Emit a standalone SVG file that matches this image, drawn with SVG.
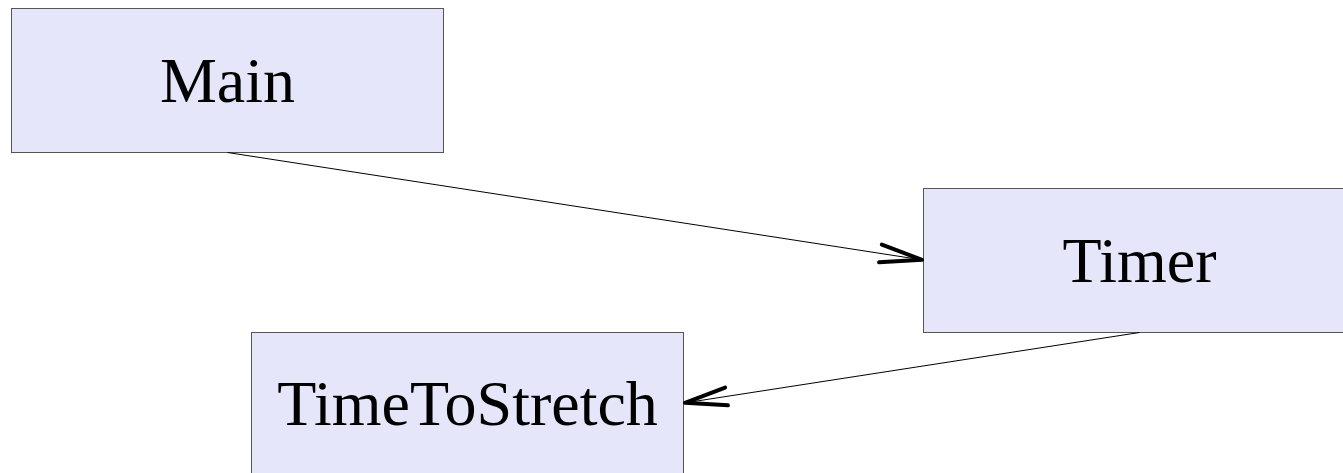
<svg xmlns="http://www.w3.org/2000/svg" width="1343" height="473" viewBox="0 0 1343 473">
  <style>
    .box { fill: #e6e6fa; stroke: #555555; stroke-width: 1; }
    .label { font-family: "Liberation Serif", "Times New Roman", serif; font-size: 64px; fill: #000000; text-anchor: middle; }
    .edge { fill: none; stroke: #000000; stroke-width: 1; }
  </style>
  <defs>
    <marker id="open-arrow" markerUnits="userSpaceOnUse" markerWidth="60" markerHeight="30" viewBox="-50 -15 60 30" refX="0" refY="0" orient="auto" overflow="visible">
      <path d="M-43,-9 L-1,0 L-43,9" fill="none" stroke="#000000" stroke-width="4" stroke-linecap="round" stroke-linejoin="round"/>
    </marker>
  </defs>
  <rect width="1343" height="473" fill="#ffffff"/>

  <g id="node-main">
    <rect class="box" x="11.5" y="8.5" width="432" height="144"/>
    <text class="label" x="227.5" y="102">Main</text>
  </g>

  <g id="node-timer">
    <rect class="box" x="923.5" y="188.5" width="432" height="144"/>
    <text class="label" x="1139.5" y="282">Timer</text>
  </g>

  <g id="node-timetostretch">
    <rect class="box" x="251.5" y="332.5" width="432" height="144"/>
    <text class="label" x="467.5" y="425">TimeToStretch</text>
  </g>

  <g id="connectors">
    <line class="edge" x1="227.5" y1="152.5" x2="923" y2="260" marker-end="url(#open-arrow)"/>
    <line class="edge" x1="1139.5" y1="332.5" x2="684" y2="403" marker-end="url(#open-arrow)"/>
  </g>
</svg>
